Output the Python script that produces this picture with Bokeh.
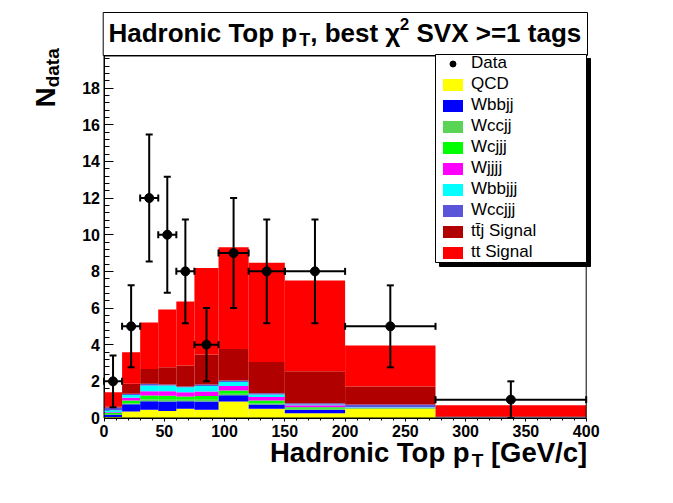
import numpy as np
from bokeh.plotting import figure
from bokeh.models import (ColumnDataSource, Whisker, TeeHead, Legend, LegendItem,
                          Label, BoxAnnotation, FixedTicker, Range1d, LinearAxis)
from bokeh.embed import file_html
from bokeh.resources import INLINE

# ---------------- data ----------------
bin_edges = [0, 15, 30, 45, 60, 75, 95, 120, 150, 200, 275, 400]
data_counts = [2, 5, 12, 10, 8, 4, 9, 8, 8, 5, 1]

qcd    = [0.05, 0.35, 0.45, 0.38, 0.50, 0.45, 0.90, 0.50, 0.26, 0.50, 0.01]
wbbjj  = [0.12, 0.40, 0.47, 0.52, 0.42, 0.45, 0.34, 0.24, 0.19, 0.02, 0.01]
wccjj  = [0.05, 0.06, 0.10, 0.10, 0.08, 0.10, 0.08, 0.07, 0.05, 0.01, 0.00]
wcjjj  = [0.05, 0.14, 0.21, 0.22, 0.17, 0.20, 0.18, 0.14, 0.09, 0.02, 0.00]
wjjjj  = [0.05, 0.15, 0.23, 0.24, 0.24, 0.25, 0.24, 0.19, 0.11, 0.02, 0.01]
wbbjjj = [0.10, 0.16, 0.31, 0.31, 0.27, 0.30, 0.23, 0.14, 0.04, 0.03, 0.01]
wccjjj = [0.15, 0.06, 0.10, 0.06, 0.04, 0.08, 0.08, 0.07, 0.07, 0.14, 0.01]
ttj    = [0.05, 0.55, 0.81, 0.94, 1.14, 1.63, 1.72, 1.70, 1.74, 0.98, 0.05]
tt     = [0.79, 1.72, 2.53, 3.15, 3.50, 4.73, 5.55, 5.42, 4.95, 2.24, 0.60]

components = [
    ("QCD", qcd, "#FFFF00"),
    ("Wbbjj", wbbjj, "#0000FF"),
    ("Wccjj", wccjj, "#59D454"),
    ("Wcjjj", wcjjj, "#00FF00"),
    ("Wjjjj", wjjjj, "#FF00FF"),
    ("Wbbjjj", wbbjjj, "#00FFFF"),
    ("Wccjjj", wccjjj, "#5954D8"),
    ("tt\u0304j Signal", ttj, "#B00000"),
    ("tt Signal", tt, "#FF0000"),
]

x_ticks = [0, 50, 100, 150, 200, 250, 300, 350, 400]
y_ticks = [0, 2, 4, 6, 8, 10, 12, 14, 16, 18]
X_MAX, Y_MAX = 400, 19.75

FONT = "Liberation Sans"

# ---------------- layout (pixels) ----------------
W, H = 673, 503
X0_PX, X1_PX = 103.5, 585.7      # pixel columns of x=0 and x=400
Y0_PX, Y_SCALE = 417.5, 18.33    # pixel row of y=0, pixels per unit
x_scale = (X1_PX - X0_PX) / X_MAX
x_start = -X0_PX / x_scale
x_end = (W - X0_PX) / x_scale
y_start = -(H - Y0_PX) / Y_SCALE
y_end = Y0_PX / Y_SCALE

p = figure(width=W, height=H, output_backend="svg", toolbar_location=None,
           x_range=Range1d(x_start, x_end), y_range=Range1d(y_start, y_end),
           x_axis_location=None, y_axis_location=None,
           min_border=0, min_border_left=0, min_border_right=0,
           min_border_top=0, min_border_bottom=0)
p.title.visible = False
p.background_fill_color = "white"
p.border_fill_color = "white"
p.outline_line_color = None
p.xgrid.visible = False
p.ygrid.visible = False

# ---------------- axes ----------------
xaxis = LinearAxis(fixed_location=0, bounds=(0, X_MAX),
                   ticker=FixedTicker(ticks=x_ticks, minor_ticks=list(range(0, 401, 10))))
yaxis = LinearAxis(fixed_location=0, bounds=(0, Y_MAX),
                   ticker=FixedTicker(ticks=y_ticks,
                                      minor_ticks=[round(0.4 * i, 2) for i in range(50)]))
for ax in (xaxis, yaxis):
    ax.level = "underlay"
    ax.major_label_text_font = FONT
    ax.major_label_text_font_style = "bold"
    ax.major_label_text_font_size = "16px"
    ax.major_label_text_color = "black"
    ax.axis_line_color = "black"
    ax.major_tick_line_color = "black"
    ax.minor_tick_line_color = "black"
    ax.major_label_standoff = 4
yaxis.major_tick_in = 9
yaxis.major_tick_out = 0
yaxis.minor_tick_in = 5
yaxis.minor_tick_out = 0
xaxis.major_tick_in = 0
xaxis.major_tick_out = 3
xaxis.minor_tick_in = 0
xaxis.minor_tick_out = 2
p.add_layout(xaxis, "below")
p.add_layout(yaxis, "left")

# ---------------- stacked histograms ----------------
edges = np.array(bin_edges, dtype=float)
lefts, rights = edges[:-1], edges[1:]
centers = 0.5 * (lefts + rights)

bottom = np.zeros(len(lefts))
quad_renderers = []
for name, vals, color in components:
    vals = np.array(vals, dtype=float)
    top = bottom + vals
    r = p.quad(left=lefts, right=rights, bottom=bottom, top=top,
               fill_color=color, line_color=None)
    quad_renderers.append((name, r))
    bottom = top

# frame box
p.add_layout(BoxAnnotation(left=0, right=X_MAX, bottom=0, top=Y_MAX,
                           fill_color=None, fill_alpha=0,
                           line_color="black", line_width=1, line_alpha=1.0))

# ---------------- data points ----------------
y = np.array(data_counts, dtype=float)
err = np.sqrt(y)
src = ColumnDataSource(dict(x=centers, y=y, lo=y - err, hi=y + err,
                            xl=lefts, xr=rights))
for dim, base, lo, hi in (("height", "x", "lo", "hi"), ("width", "y", "xl", "xr")):
    p.add_layout(Whisker(source=src, base=base, lower=lo, upper=hi, dimension=dim,
                         level="annotation", line_color="black", line_width=2,
                         upper_head=TeeHead(size=7, line_color="black", line_width=2),
                         lower_head=TeeHead(size=7, line_color="black", line_width=2)))
data_r = p.scatter(x="x", y="y", source=src, size=9, color="black")


def sbox(l, r, t, b, fill, line):
    # l, r, t, b in canvas pixels measured from the top-left corner
    p.add_layout(BoxAnnotation(left=l, right=r, top=H - t, bottom=H - b,
                               left_units="screen", right_units="screen",
                               top_units="screen", bottom_units="screen",
                               fill_color=fill, fill_alpha=1.0,
                               line_color=line, line_width=1, line_alpha=1.0))


SHIFT = 0.36  # measured offset of the rendered baseline, in em


def lab(text, x, base, size, bold=True, rotated=False):
    # x, base: canvas pixels from the top-left corner, base = wanted baseline
    if rotated:
        xx, yy, ang = x - SHIFT * size, H - base, np.pi / 2
    else:
        xx, yy, ang = x, H - (base - SHIFT * size), 0.0
    p.add_layout(Label(x=xx, y=yy, x_units="screen", y_units="screen", text=text,
                       text_font=FONT, text_font_style="bold" if bold else "normal",
                       text_font_size=f"{size}px", text_color="black",
                       text_align="left", text_baseline="alphabetic", angle=ang))


# ---------------- title box ----------------
sbox(102.7, 587, 12, 55, "white", "black")
tb = 41.5
lab("Hadronic Top p", 108, tb, 26)
lab("T", 298.7, tb + 4.4, 18)
lab(", best", 309.7, tb, 26)
lab("\u03c7", 384.8, tb, 26)
lab("2", 399.3, tb - 12, 17)
lab("SVX >=1 tags", 416, tb, 26)

# ---------------- axis titles ----------------
xb = 461.7
lab("Hadronic Top p", 269.5, xb, 27.5)
lab("T", 471.2, xb + 5.5, 19)
lab("[GeV/c]", 490.4, xb, 27.5)

# rotated: x = baseline column, base = bottom end of the text
lab("N", 55, 106.7, 27.5, rotated=True)
lab("data", 59, 86.8, 19, rotated=True)

# ---------------- legend ----------------
sbox(439, 590, 58, 266, "black", "black")      # shadow
sbox(435, 586, 54, 262, "white", "black")      # box

items = [LegendItem(label="Data", renderers=[data_r])]
for name, r in quad_renderers:
    items.append(LegendItem(label=name, renderers=[r]))

legend = Legend(items=items, location=(439, H - 263.3),
                label_text_font=FONT, label_text_font_size="17px",
                label_text_color="black",
                glyph_width=25, glyph_height=15, label_height=15,
                label_width=100, label_standoff=6,
                spacing=1, padding=1, margin=0,
                border_line_alpha=0, background_fill_alpha=0)
p.add_layout(legend, "center")

open("out.html", "w").write(file_html(p, INLINE))
